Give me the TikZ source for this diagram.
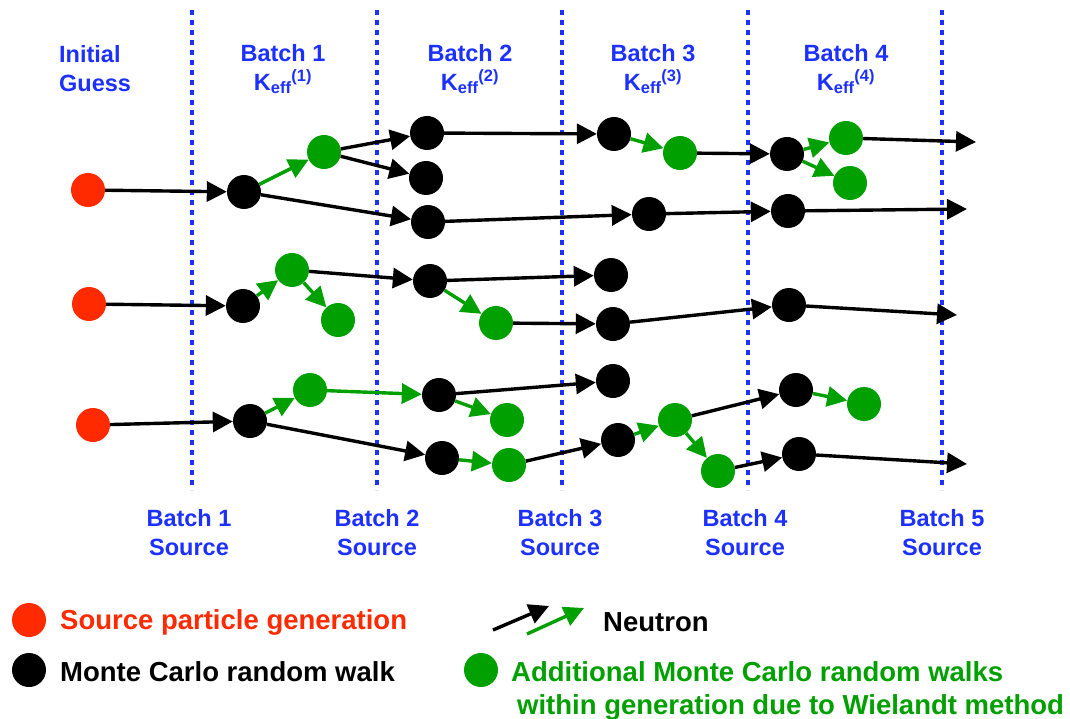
\documentclass[tikz,border=0pt]{standalone}
\usepackage{fontspec}
\setmainfont{Liberation Sans}
\usetikzlibrary{arrows.meta}
\definecolor{batchblue}{RGB}{28,48,255}
\definecolor{srcred}{RGB}{255,42,0}
\definecolor{wgreen}{RGB}{0,160,0}
\begin{document}
\begin{tikzpicture}[x=1pt,y=-1pt,
  walker/.style={circle,fill=black,minimum size=34pt,inner sep=0pt},
  source/.style={walker,fill=srcred},
  extra/.style={walker,fill=wgreen},
  neutron/.style={-{Triangle[length=20pt,width=20pt]},line width=3.4pt},
  wneutron/.style={neutron,wgreen},
  batchline/.style={batchblue,line width=4pt,dash pattern=on 5pt off 5pt},
  batchtext/.style={batchblue,font=\fontsize{23.5}{29}\selectfont\bfseries,align=center},
  legendtext/.style={font=\fontsize{27.5}{33}\selectfont\bfseries,anchor=west,inner xsep=0pt}
  ]
  \useasboundingbox (0,0) rectangle (1070,719);
  % batch boundaries
  \foreach \x in {192,377,562,748,942}
    \draw[batchline] (\x,10) -- (\x,490);
  \node[batchtext,align=left,anchor=west,inner xsep=0pt] (init) at (59,69) {Initial\\Guess};
  \foreach \x/\n in {283/1,470/2,653/3,846/4}
    \node[batchtext] (keff\n) at (\x,69) {Batch \n\\K\textsubscript{eff}\textsuperscript{(\n)}};
  \foreach \x/\n in {189/1,377/2,560/3,745/4,942/5}
    \node[batchtext] (src\n) at (\x,533) {Batch \n\\Source};

  % first history
  \node[source] (s1) at (88,190) {};
  \node[walker] (a1) at (244,192) {};
  \node[extra] (a1x) at (324,152) {};
  \node[walker] (b1) at (427,133) {};
  \node[walker] (b2) at (426,178) {};
  \node[walker] (b3) at (428,222) {};
  \node[walker] (c1) at (614,134) {};
  \node[extra] (c1x) at (680,153) {};
  \node[walker] (c2) at (649,214) {};
  \node[walker] (d1) at (787,154) {};
  \node[extra] (d1x) at (846,138) {};
  \node[extra] (d1y) at (850,183) {};
  \node[walker] (d2) at (788,211) {};
  \coordinate (e1) at (976,142);
  \coordinate (e2) at (967,209);
  \draw[neutron] (s1) -- (a1);
  \draw[wneutron] (a1) -- (a1x);
  \draw[neutron] (a1) -- (b3);
  \draw[neutron] (a1x) -- (b1);
  \draw[neutron] (a1x) -- (b2);
  \draw[neutron] (b1) -- (c1);
  \draw[wneutron] (c1) -- (c1x);
  \draw[neutron] (c1x) -- (d1);
  \draw[wneutron] (d1) -- (d1x);
  \draw[wneutron] (d1) -- (d1y);
  \draw[neutron] (d1x) -- (e1);
  \draw[neutron] (b3) -- (c2);
  \draw[neutron] (c2) -- (d2);
  \draw[neutron] (d2) -- (e2);

  % second history
  \node[source] (s2) at (89,304) {};
  \node[walker] (a2) at (243,306) {};
  \node[extra] (a2x) at (292,270) {};
  \node[extra] (a2y) at (338,320) {};
  \node[walker] (b4) at (430,281) {};
  \node[extra] (b4x) at (496,323) {};
  \node[walker] (c3) at (611,275) {};
  \node[walker] (c4) at (613,324) {};
  \node[walker] (d3) at (789,305) {};
  \coordinate (e3) at (957,315);
  \draw[neutron] (s2) -- (a2);
  \draw[wneutron] (a2) -- (a2x);
  \draw[wneutron] (a2x) -- (a2y);
  \draw[neutron] (a2x) -- (b4);
  \draw[neutron] (b4) -- (c3);
  \draw[wneutron] (b4) -- (b4x);
  \draw[neutron] (b4x) -- (c4);
  \draw[neutron] (c4) -- (d3);
  \draw[neutron] (d3) -- (e3);

  % third history
  \node[source] (s3) at (93,425) {};
  \node[walker] (a3) at (250,421) {};
  \node[extra] (a3x) at (310,390) {};
  \node[walker] (b5) at (439,395) {};
  \node[extra] (b5x) at (507,420) {};
  \node[walker] (b6) at (442,458) {};
  \node[extra] (b6x) at (509,465) {};
  \node[walker] (c5) at (613,381) {};
  \node[walker] (c6) at (618,440) {};
  \node[extra] (c6x) at (675,420) {};
  \node[extra] (c6y) at (718,471) {};
  \node[walker] (d4) at (796,390) {};
  \node[extra] (d4x) at (864,404) {};
  \node[walker] (d5) at (799,454) {};
  \coordinate (e4) at (967,464);
  \draw[neutron] (s3) -- (a3);
  \draw[wneutron] (a3) -- (a3x);
  \draw[neutron] (a3) -- (b6);
  \draw[wneutron] (a3x) -- (b5);
  \draw[neutron] (b5) -- (c5);
  \draw[wneutron] (b5) -- (b5x);
  \draw[wneutron] (b6) -- (b6x);
  \draw[neutron] (b6x) -- (c6);
  \draw[wneutron] (c6) -- (c6x);
  \draw[neutron] (c6x) -- (d4);
  \draw[wneutron] (c6x) -- (c6y);
  \draw[neutron] (c6y) -- (d5);
  \draw[wneutron] (d4) -- (d4x);
  \draw[neutron] (d5) -- (e4);

  % legend
  \node[source] (ksrc) at (29,620) {};
  \node[legendtext,srcred] (tsrc) at (60,622) {Source particle generation};
  \node[walker] (kwalk) at (29,670) {};
  \node[legendtext] (twalk) at (60,672) {Monte Carlo random walk};
  \coordinate (kn1) at (493,630);
  \coordinate (kn2) at (549,606);
  \coordinate (kn3) at (527,634);
  \coordinate (kn4) at (584,608);
  \draw[neutron] (kn1) -- (kn2);
  \draw[wneutron] (kn3) -- (kn4);
  \node[legendtext] (tneut) at (603,622) {Neutron};
  \node[extra] (kextra) at (481,670) {};
  \node[legendtext,wgreen] (textra) at (511,672) {Additional Monte Carlo random walks};
  \node[legendtext,wgreen] (textra2) at (517,707) {within generation due to Wielandt method};
\end{tikzpicture}
\end{document}
